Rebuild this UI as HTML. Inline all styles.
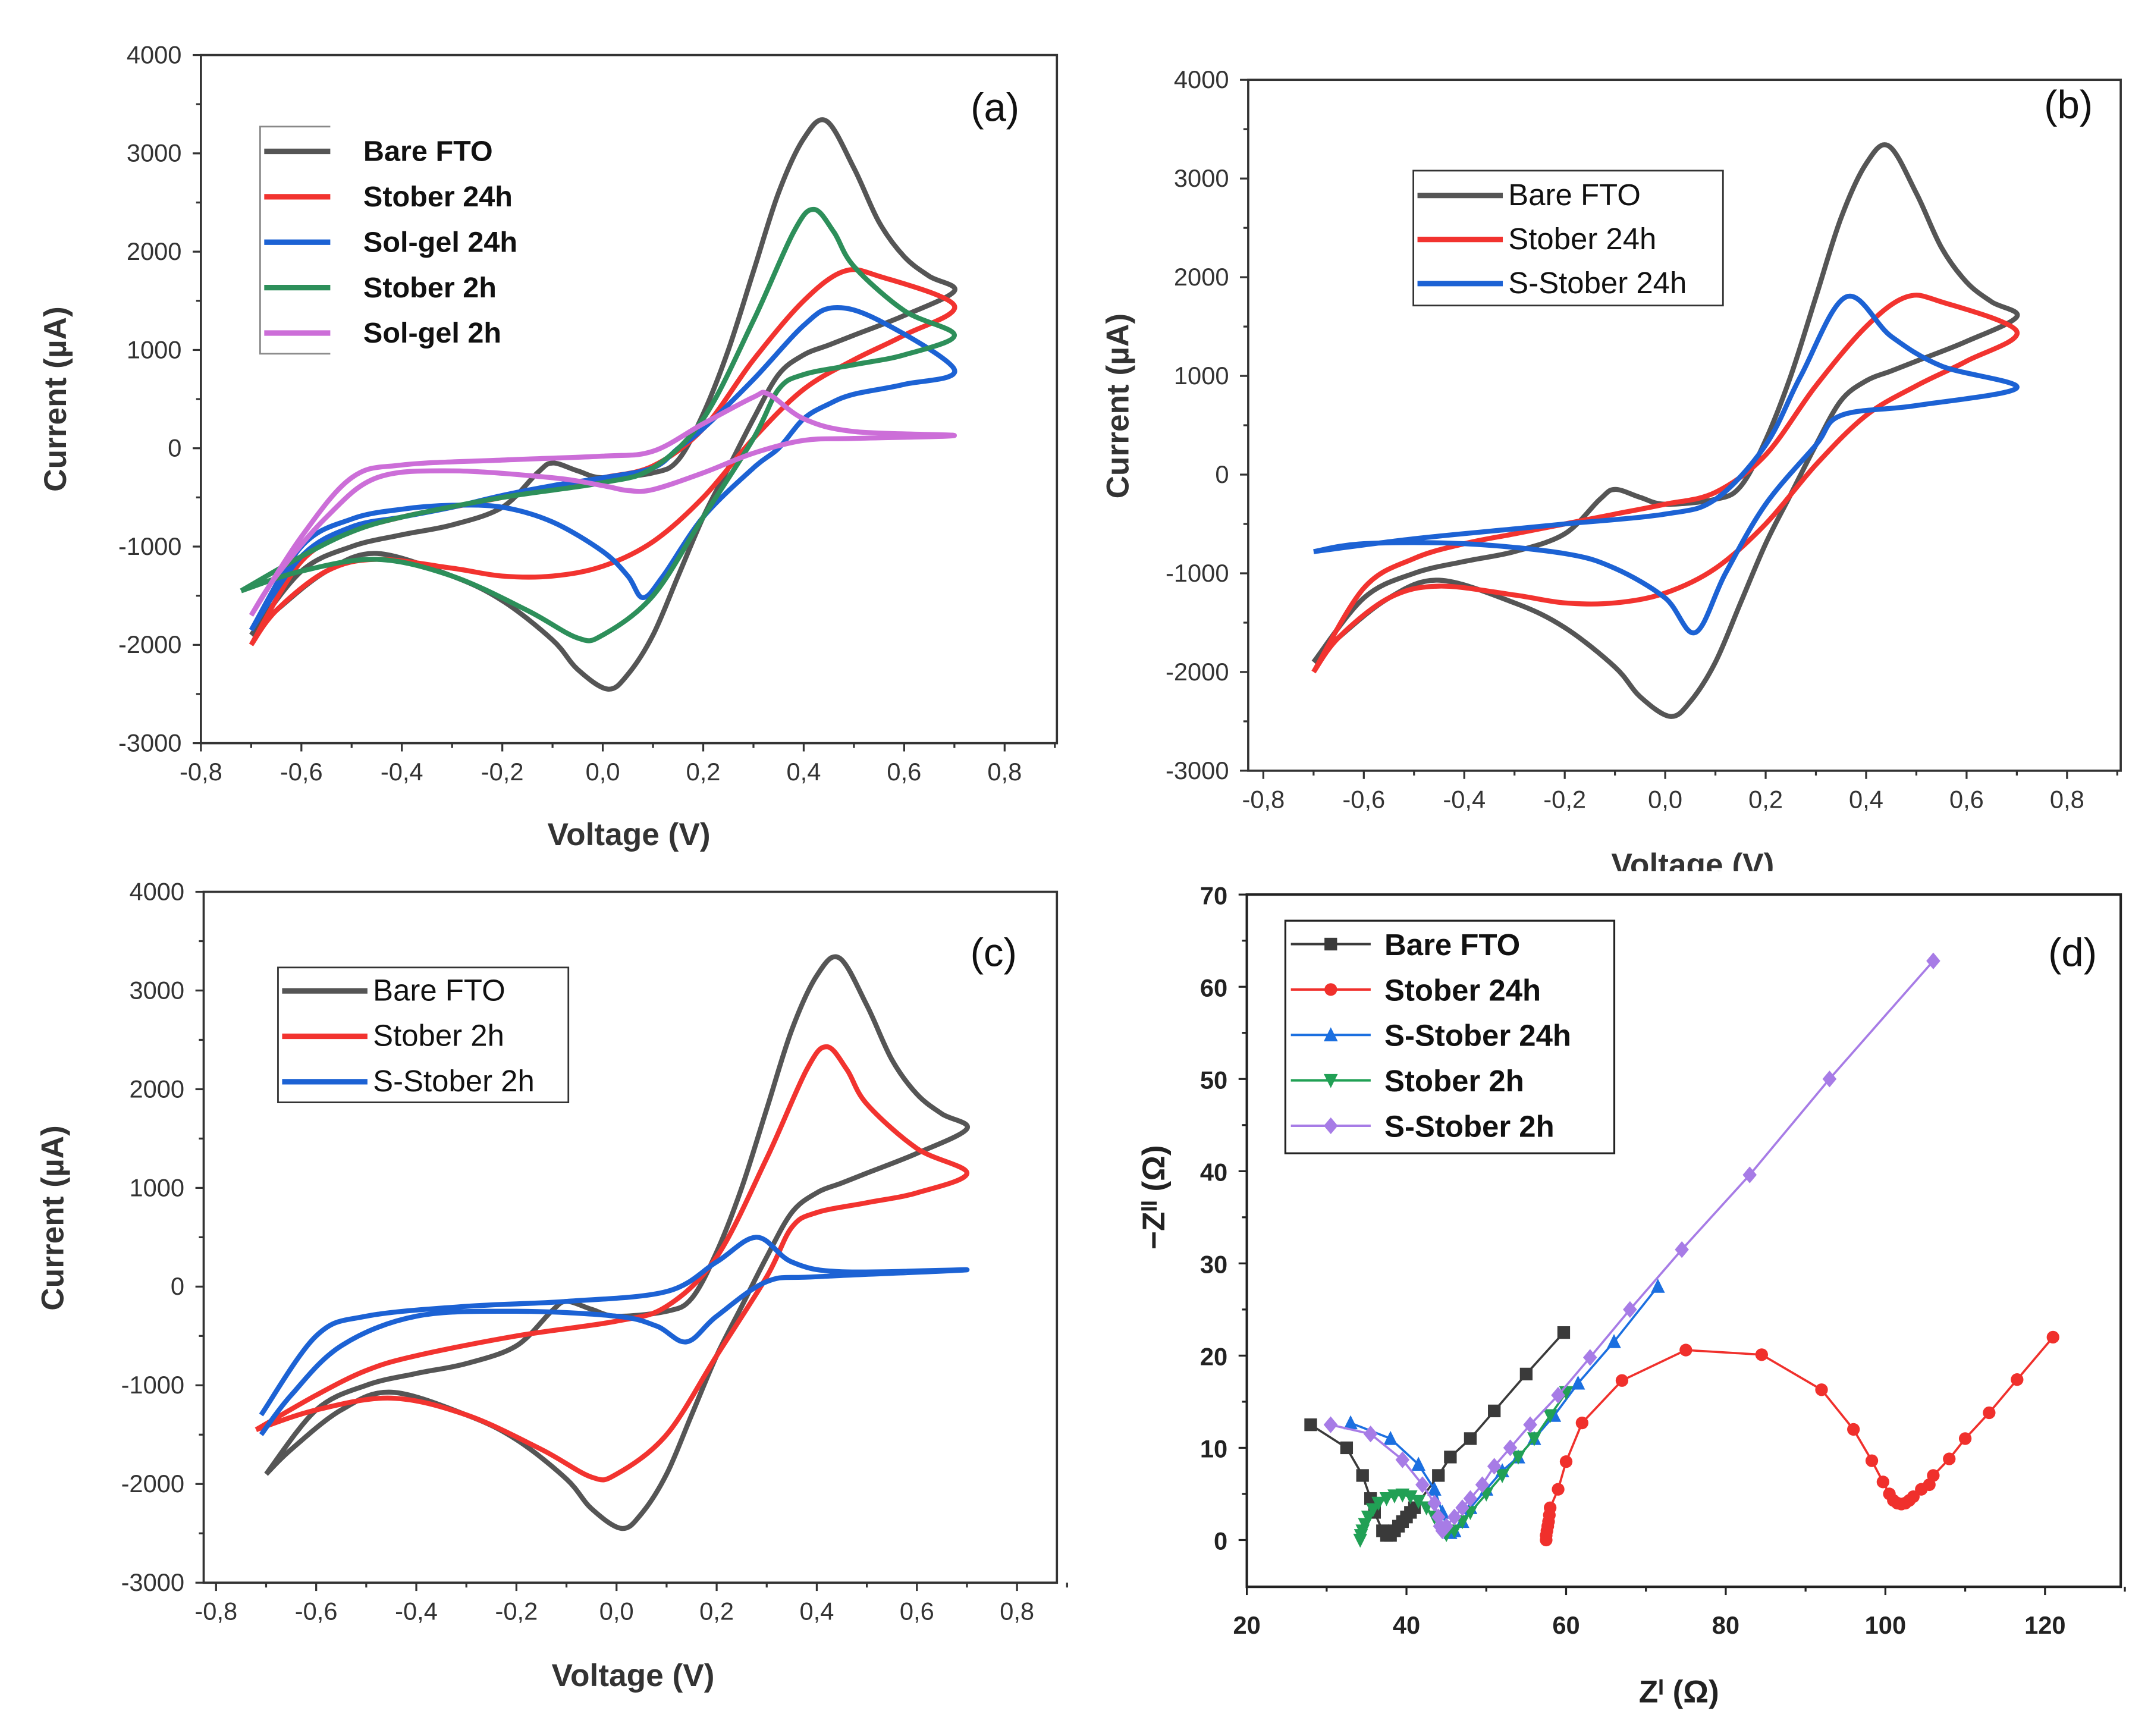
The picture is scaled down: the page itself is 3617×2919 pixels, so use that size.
<!DOCTYPE html>
<html><head><meta charset="utf-8">
<style>
html,body{margin:0;padding:0;background:#fff;}
svg{display:block;}
text{font-family:"Liberation Sans",Arial,sans-serif;}
</style></head>
<body>
<svg id="fig" xmlns="http://www.w3.org/2000/svg" width="3617" height="2919" viewBox="0 0 1563 1261.4" preserveAspectRatio="none">
<rect x="0" y="0" width="1563" height="1262" fill="#fff"/>
</svg>
<script>
// ---------- CV data (V, µA) ----------
const bareV = [-0.7,-0.6,-0.5,-0.4,-0.3,-0.2,-0.13,-0.1,-0.05,0.0,0.1,0.15,0.2,0.25,0.3,0.35,0.4,0.445,0.5,0.55,0.6,0.65,0.7,0.6,0.5,0.45,0.4,0.35,0.3,0.25,0.2,0.15,0.1,0.05,0.01,-0.05,-0.1,-0.2,-0.3,-0.45,-0.55,-0.65,-0.7];
const bareI = [-1900,-1250,-1000,-880,-780,-600,-250,-150,-230,-300,-250,-120,350,1000,1800,2600,3150,3330,2850,2300,1950,1750,1600,1350,1150,1050,950,750,300,-200,-700,-1300,-1900,-2300,-2450,-2250,-1950,-1550,-1300,-1070,-1250,-1650,-1900];
const stober24V = [-0.7,-0.6,-0.5,-0.4,-0.3,-0.2,-0.1,0.0,0.1,0.2,0.3,0.4,0.48,0.55,0.7,0.6,0.5,0.4,0.3,0.2,0.1,0.0,-0.1,-0.2,-0.3,-0.45,-0.55,-0.65,-0.7];
const stober24I = [-2000,-1150,-850,-700,-600,-500,-400,-300,-180,200,900,1500,1800,1750,1450,1150,900,600,100,-500,-950,-1200,-1300,-1300,-1220,-1130,-1250,-1650,-2000];
const solgel24V = [-0.7,-0.6,-0.5,-0.4,-0.3,-0.2,-0.1,0.0,0.1,0.15,0.2,0.3,0.4,0.46,0.55,0.7,0.6,0.5,0.45,0.4,0.35,0.3,0.2,0.12,0.08,0.05,0.0,-0.1,-0.2,-0.3,-0.4,-0.5,-0.6,-0.7];
const solgel24I = [-1850,-1100,-800,-700,-600,-480,-380,-300,-200,0,200,700,1250,1430,1300,800,650,550,450,300,0,-200,-700,-1300,-1520,-1300,-1050,-750,-600,-580,-620,-720,-1000,-1850];
const stober2V = [-0.72,-0.6,-0.5,-0.4,-0.2,0.0,0.1,0.2,0.3,0.38,0.42,0.46,0.5,0.6,0.7,0.6,0.5,0.4,0.35,0.3,0.2,0.1,0.0,-0.05,-0.15,-0.3,-0.45,-0.6,-0.72];
const stober2I = [-1450,-1100,-850,-700,-500,-350,-200,300,1300,2200,2430,2200,1850,1400,1150,950,850,750,600,100,-700,-1500,-1900,-1930,-1650,-1300,-1130,-1250,-1450];
const solgel2V = [-0.7,-0.6,-0.5,-0.4,-0.2,0.0,0.1,0.2,0.3,0.33,0.4,0.5,0.7,0.5,0.4,0.3,0.2,0.1,0.05,0.0,-0.1,-0.3,-0.45,-0.55,-0.65,-0.7];
const solgel2I = [-1700,-900,-300,-170,-120,-80,-30,250,520,550,300,170,130,100,80,-50,-250,-420,-430,-380,-300,-230,-300,-700,-1300,-1700];
const sstober24V = [-0.7,-0.5,-0.3,-0.2,0.0,0.1,0.2,0.27,0.36,0.45,0.55,0.7,0.5,0.35,0.3,0.2,0.12,0.06,0.0,-0.1,-0.2,-0.4,-0.6,-0.7];
const sstober24I = [-780,-650,-550,-500,-400,-250,300,1000,1800,1400,1100,880,700,600,300,-300,-1000,-1600,-1250,-950,-800,-700,-700,-780];
const sstober2V = [-0.71,-0.6,-0.5,-0.3,-0.1,0.1,0.2,0.28,0.35,0.45,0.7,0.4,0.3,0.2,0.14,0.08,0.0,-0.2,-0.4,-0.55,-0.65,-0.71];
const sstober2I = [-1300,-500,-300,-200,-150,-50,250,500,250,150,170,100,50,-300,-560,-400,-300,-250,-300,-600,-1100,-1500];

// ---------- EIS data (Z', -Z'') ----------
const bareZr = [28,32.5,34.5,35.5,36,37,37.5,38,38.5,39,39.5,40,40.5,41,44,45.5,48,51,55,59.7];
const bareZi = [12.5,10,7,4.5,3,1,0.5,0.5,1,1.5,2,2.5,3,3.5,7,9,11,14,18,22.5];
const st24Zr = [57.5,57.5,57.6,57.7,57.8,57.9,58,59,60,62,67,75,84.5,92,96,98.3,99.7,100.5,101,101.5,102,102.5,103,103.5,104.5,105.5,106,108,110,113,116.5,121];
const st24Zi = [0,0.5,1,1.5,2,2.7,3.5,5.5,8.5,12.7,17.3,20.6,20.1,16.3,12,8.6,6.3,5,4.3,4,3.9,4,4.3,4.7,5.5,6,7,8.8,11,13.8,17.4,22];
const sst24Zr = [33,38,41.5,43.5,44.5,45,45.5,46,47,48,50,52,54,56,58.5,61.5,66,71.5];
const sst24Zi = [12.7,11,8.2,5.5,3,1.5,0.8,1,2,3.5,5.5,7.5,9,11,13.5,17,21.5,27.5];
const st2Zr = [34.2,34.3,34.5,34.8,35.2,35.8,36.5,37.5,38.5,39.5,40.5,41.5,42.5,43.5,44.5,45,46,47,48,50,52,54,56,58,60];
const st2Zi = [0,0.5,1,1.7,2.5,3.3,4,4.5,4.8,4.9,4.7,4.2,3.5,2.5,1.2,0.6,1,2,3,5,7,9,11,13.5,16];
const sst2Zr = [30.5,35.5,39.5,42,43.5,44,44.2,44.5,45,46,47,48,49.5,51,53,55.5,59,63,68,74.5,83,93,106];
const sst2Zi = [12.5,11.5,8.7,6,4,2.5,1.5,1,1.5,2.5,3.5,4.5,6,8,10,12.5,15.7,19.8,25,31.5,39.6,50,62.8];

const cvTicksX = [-0.8,-0.6,-0.4,-0.2,0.0,0.2,0.4,0.6,0.8];
const cvTickLabelsX = ["-0,8","-0,6","-0,4","-0,2","0,0","0,2","0,4","0,6","0,8"];
const cvTicksY = [4000,3000,2000,1000,0,-1000,-2000,-3000];
const eisTicksX = [20,40,60,80,100,120];
const eisTicksY = [0,10,20,30,40,50,60,70];

const NS="http://www.w3.org/2000/svg";
const svg=document.getElementById('fig');
function el(tag,attrs,parent){const e=document.createElementNS(NS,tag);for(const k in attrs)e.setAttribute(k,attrs[k]);(parent||svg).appendChild(e);return e;}
function sc(d0,d1,p0,p1){return v=>p0+(v-d0)*(p1-p0)/(d1-d0);}
function smooth(pts){
  let d='M'+pts[0][0].toFixed(2)+','+pts[0][1].toFixed(2);
  for(let i=0;i<pts.length-1;i++){
    const p0=pts[i-1]||pts[i],p1=pts[i],p2=pts[i+1],p3=pts[i+2]||p2;
    const c1=[p1[0]+(p2[0]-p0[0])/6,p1[1]+(p2[1]-p0[1])/6];
    const c2=[p2[0]-(p3[0]-p1[0])/6,p2[1]-(p3[1]-p1[1])/6];
    d+='C'+c1.map(v=>v.toFixed(2)).join(',')+' '+c2.map(v=>v.toFixed(2)).join(',')+' '+p2[0].toFixed(2)+','+p2[1].toFixed(2);
  }
  return d;
}

function cvPanel(id,cfg){
  const g=el('g',{});
  
  
  if(cfg.clip){
    const cp=el('clipPath',{id:id+'-clip'},g);
    el('rect',{x:cfg.clip[0],y:cfg.clip[1],width:cfg.clip[2],height:cfg.clip[3]},cp);
    g.setAttribute('clip-path','url(#'+id+'-clip)');
  }
  const X=sc(-0.8,0.8,cfg.x0,cfg.x1), Y=sc(4000,-3000,cfg.top,cfg.bot);
  const box=el('rect',{x:cfg.bl,y:cfg.top,width:cfg.br-cfg.bl,height:cfg.bot-cfg.top,fill:'none',stroke:'#333','stroke-width':1.6},g);
  
  
  for(let v=4000;v>=-3000;v-=500){
    const major=v%1000===0;
    el('line',{x1:cfg.bl,x2:cfg.bl-(major?6:3.5),y1:Y(v),y2:Y(v),stroke:'#333','stroke-width':1.4},g);
  }
  cvTicksY.forEach(v=>{
    const t=el('text',{x:cfg.bl-14,y:Y(v)+6,'text-anchor':'end','font-size':18,fill:'#333'},g);
    t.textContent=String(v);
    
    
  });
  for(let v=-0.8;v<=0.9001;v+=0.1){
    const major=Math.abs(Math.round(v*10))%2===0;
    el('line',{x1:X(v),x2:X(v),y1:cfg.bot,y2:cfg.bot+(major?6:3.5),stroke:'#333','stroke-width':1.4},g);
  }
  cvTicksX.forEach((v,i)=>{
    const t=el('text',{x:X(v),y:cfg.bot+27,'text-anchor':'middle','font-size':18,fill:'#333'},g);
    t.textContent=cvTickLabelsX[i];
    
    
  });
  cfg.series.forEach(s=>{
    const pts=s.v.map((v,i)=>[X(v),Y(s.i[i])]);
    const p=el('path',{d:smooth(pts),fill:'none',stroke:s.c,'stroke-width':3.6,'stroke-linejoin':'round'},g);
    
    
  });
  const yt=el('text',{transform:`translate(${cfg.ytx},${cfg.yty}) rotate(-90)`,'text-anchor':'middle','font-size':23,'font-weight':'bold',fill:'#333'},g);
  yt.textContent='Current (\u00b5A)';
  
  
  const xt=el('text',{x:cfg.xtx,y:cfg.xty,'text-anchor':'middle','font-size':23,'font-weight':'bold',fill:'#333'},g);
  xt.textContent='Voltage (V)';
  
  
  const pl=el('text',{x:cfg.plx,y:cfg.ply,'text-anchor':'middle','font-size':29,fill:'#111'},g);
  pl.textContent=cfg.label;
  
  
  const L=cfg.legend;
  const lg=el('g',{},g);
  
  
  if(L.open){
    el('path',{d:`M${L.x1},${L.y0}H${L.x0}V${L.y1}H${L.x1}`,fill:'none',stroke:'#888','stroke-width':1.2},lg);
  } else {
    el('rect',{x:L.x0,y:L.y0,width:L.x1-L.x0,height:L.y1-L.y0,fill:'#fff',stroke:'#333','stroke-width':1.2},lg);
  }
  cfg.series.forEach((s,i)=>{
    const y=L.ey+i*L.dy;
    const e=el('g',{},lg);
    
    
    el('line',{x1:L.lx0,x2:L.lx1,y1:y,y2:y,stroke:s.c,'stroke-width':4},e);
    const t=el('text',{x:L.tx,y:y+7,'font-size':L.fs,'font-weight':L.bold?'bold':'normal',fill:'#111'},e);
    t.textContent=s.label;
  });
}

const GRAY='#555', RED='#f2332f', BLUE='#1c62d4', GREEN='#2d8f5a', PURP='#cc6ed8';

cvPanel('a',{x0:146,x1:730,top:40,bot:540,bl:146,br:768,ytx:48,yty:290,xtx:457,xty:614,plx:723,ply:88,label:'(a)',
  legend:{open:true,x0:189,x1:240,y0:92,y1:257,ey:110,dy:33,lx0:192,lx1:240,tx:264,fs:21,bold:true},
  series:[{n:'bare-fto',label:'Bare  FTO',v:bareV,i:bareI,c:GRAY},
          {n:'stober-24h',label:'Stober 24h',v:stober24V,i:stober24I,c:RED},
          {n:'sol-gel-24h',label:'Sol-gel 24h',v:solgel24V,i:solgel24I,c:BLUE},
          {n:'stober-2h',label:'Stober 2h',v:stober2V,i:stober2I,c:GREEN},
          {n:'sol-gel-2h',label:'Sol-gel 2h',v:solgel2V,i:solgel2I,c:PURP}]});
cvPanel('b',{x0:918,x1:1502,top:58,bot:560,bl:907,br:1541,ytx:820,yty:295,xtx:1230,xty:636,plx:1503,ply:86,label:'(b)',clip:[790,0,780,633],
  legend:{x0:1027,x1:1252,y0:124,y1:222,ey:142,dy:32,lx0:1030,lx1:1092,tx:1096,fs:22,bold:false},
  series:[{n:'bare-fto',label:'Bare FTO',v:bareV,i:bareI,c:GRAY},
          {n:'stober-24h',label:'Stober 24h',v:stober24V,i:stober24I,c:RED},
          {n:'s-stober-24h',label:'S-Stober 24h',v:sstober24V,i:sstober24I,c:BLUE}]});
cvPanel('c',{x0:157,x1:739,top:648,bot:1150,bl:148,br:768,ytx:46,yty:885,xtx:460,xty:1225,plx:722,ply:702,label:'(c)',
  legend:{x0:202,x1:413,y0:703,y1:801,ey:720,dy:33,lx0:205,lx1:267,tx:271,fs:22,bold:false},
  series:[{n:'bare-fto',label:'Bare FTO',v:bareV,i:bareI,c:GRAY},
          {n:'stober-2h',label:'Stober 2h',v:stober2V,i:stober2I,c:RED},
          {n:'s-stober-2h',label:'S-Stober 2h',v:sstober2V,i:sstober2I,c:BLUE}]});

(function(){
  const g=el('g',{});
  
  
  const X=sc(20,120,906,1486), Y=sc(0,70,1119,650);
  const bl=906,br=1541,top=650,bot=1153;
  const box=el('rect',{x:bl,y:top,width:br-bl,height:bot-top,fill:'none',stroke:'#222','stroke-width':1.8},g);
  
  
  for(let v=0;v<=70;v+=5){
    const major=v%10===0;
    el('line',{x1:bl,x2:bl-(major?6:3.5),y1:Y(v),y2:Y(v),stroke:'#222','stroke-width':1.4},g);}
  eisTicksY.forEach(v=>{
    const t=el('text',{x:bl-14,y:Y(v)+7,'text-anchor':'end','font-size':18,'font-weight':'bold',fill:'#222'},g);
    t.textContent=String(v);
    
    
  });
  for(let v=20;v<=130;v+=10){
    const major=v%20===0;
    el('line',{x1:X(v),x2:X(v),y1:bot,y2:bot+(major?6:3.5),stroke:'#222','stroke-width':1.4},g);}
  eisTicksX.forEach(v=>{
    const t=el('text',{x:X(v),y:bot+34,'text-anchor':'middle','font-size':18,'font-weight':'bold',fill:'#222'},g);
    t.textContent=String(v);
    
    
  });
  function marker(type,x,y,c,parent){
    const s=4.6;
    if(type==='sq') return el('rect',{x:x-s,y:y-s,width:2*s,height:2*s,fill:c},parent);
    if(type==='ci') return el('circle',{cx:x,cy:y,r:s,fill:c},parent);
    if(type==='tu') return el('polygon',{points:`${x},${y-s-1} ${x+s+0.5},${y+s} ${x-s-0.5},${y+s}`,fill:c},parent);
    if(type==='td') return el('polygon',{points:`${x},${y+s+1} ${x+s+0.5},${y-s} ${x-s-0.5},${y-s}`,fill:c},parent);
    return el('polygon',{points:`${x},${y-s-1.5} ${x+s+0.5},${y} ${x},${y+s+1.5} ${x-s-0.5},${y}`,fill:c},parent);
  }
  const series=[
    {n:'bare-fto',label:'Bare FTO',x:bareZr,y:bareZi,c:'#3a3a3a',m:'sq'},
    {n:'stober-24h',label:'Stober 24h',x:st24Zr,y:st24Zi,c:'#f0302c',m:'ci'},
    {n:'s-stober-24h',label:'S-Stober 24h',x:sst24Zr,y:sst24Zi,c:'#1b6fe0',m:'tu'},
    {n:'stober-2h',label:'Stober 2h',x:st2Zr,y:st2Zi,c:'#21a055',m:'td'},
    {n:'s-stober-2h',label:'S-Stober 2h',x:sst2Zr,y:sst2Zi,c:'#a77ce6',m:'di'}];
  series.forEach(s=>{
    const sg=el('g',{},g);
    
    
    el('polyline',{points:s.x.map((v,i)=>X(v).toFixed(2)+','+Y(s.y[i]).toFixed(2)).join(' '),fill:'none',stroke:s.c,'stroke-width':1.6},sg);
    s.x.forEach((v,i)=>{
      const m=marker(s.m,X(v),Y(s.y[i]),s.c,sg);
      
      
    });
  });
  const lg=el('g',{},g);
  
  
  el('rect',{x:934,y:669,width:239,height:169,fill:'#fff',stroke:'#222','stroke-width':1.4},lg);
  series.forEach((s,i)=>{
    const y=686+i*33;
    const e=el('g',{},lg);
    
    
    el('line',{x1:938,x2:996,y1:y,y2:y,stroke:s.c,'stroke-width':1.8},e);
    marker(s.m,967,y,s.c,e);
    const t=el('text',{x:1006,y:y+8,'font-size':22,'font-weight':'bold',fill:'#111'},e);
    t.textContent=s.label;
  });
  const yt=el('text',{transform:'translate(846,870) rotate(-90)','text-anchor':'middle','font-size':23,'font-weight':'bold',fill:'#222'},g);
  yt.textContent='\u2212Z\u1D35\u1D35 (\u03A9)';
  
  
  const xt=el('text',{x:1220,y:1237,'text-anchor':'middle','font-size':23,'font-weight':'bold',fill:'#222'},g);
  xt.textContent='Z\u1D35 (\u03A9)';
  
  
  const pl=el('text',{x:1506,y:702,'text-anchor':'middle','font-size':29,fill:'#111'},g);
  pl.textContent='(d)';
  
  
})();
</script>
</body></html>
